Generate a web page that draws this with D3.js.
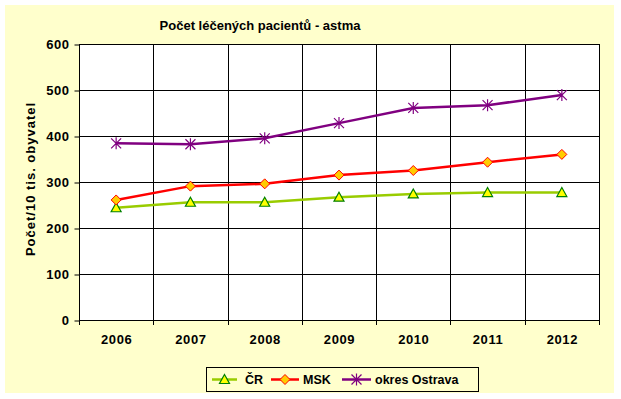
<!DOCTYPE html>
<html><head><meta charset="utf-8">
<script src="https://cdn.jsdelivr.net/npm/d3@7"></script>
<style>body{margin:0;background:#fff;}svg{display:block;}text{font-family:"Liberation Sans",Arial,sans-serif;font-weight:bold;}</style>
</head><body><svg id="c" width="621" height="399"></svg>
<script>
const years = ["2006","2007","2008","2009","2010","2011","2012"];
const cr = [244, 256, 256, 267, 274, 277, 277];
const msk = [261, 291, 296, 315, 325, 343, 360];
const ostrava = [384, 382, 395, 428, 461, 467, 489];
const yTicks = [0,100,200,300,400,500,600];
const seriesNames = ["ČR","MSK","okres Ostrava"];
const title = "Počet léčených pacientů - astma";
const yTitle = "Počet/10 tis. obyvatel";

const svg = d3.select("#c");
svg.append("rect").attr("x",5).attr("y",5).attr("width",609).attr("height",388).attr("fill","#FFFFCC");

const L=79,R=599,T=44,B=320;
const x = d3.scaleBand().domain(years).range([L,R]);
const y = d3.scaleLinear().domain([0,600]).range([B,T]);

svg.append("rect").attr("x",L).attr("y",T).attr("width",R-L).attr("height",B-T).attr("fill","#fff");

// gridlines
svg.append("g").selectAll("line").data(yTicks).join("line")
  .attr("x1",L).attr("x2",R).attr("y1",d=>Math.round(y(d))+0.5).attr("y2",d=>Math.round(y(d))+0.5)
  .attr("stroke","#000").attr("stroke-width",1);
const bounds = years.map(d=>x(d)).concat([R]);
svg.append("g").selectAll("line").data(bounds).join("line")
  .attr("x1",d=>Math.round(d)+0.5).attr("x2",d=>Math.round(d)+0.5).attr("y1",T).attr("y2",B)
  .attr("stroke","#000");

// axes
const ya = d3.axisLeft(y).tickValues(yTicks).tickSize(5).tickPadding(5).tickFormat(d3.format("d"));
const yg = svg.append("g").attr("transform",`translate(${L+0.5},0.5)`).call(ya);
yg.select(".domain").remove();
yg.selectAll("text").attr("font-size",13).attr("letter-spacing",0.5).attr("font-family","Liberation Sans, Arial").attr("font-weight","bold").attr("fill","#000");
const xa = d3.axisBottom(x).tickSize(0).tickPadding(15);
const xg = svg.append("g").attr("transform",`translate(0.5,${B})`).call(xa);
xg.select(".domain").remove();
xg.selectAll("text").attr("font-size",13).attr("letter-spacing",0.6).attr("font-family","Liberation Sans, Arial").attr("font-weight","bold").attr("fill","#000");
svg.append("g").selectAll("line").data(bounds).join("line")
  .attr("x1",d=>Math.round(d)+0.5).attr("x2",d=>Math.round(d)+0.5).attr("y1",B).attr("y2",B+5).attr("stroke","#000");

// title
svg.append("text").attr("x",260).attr("y",30).attr("text-anchor","middle").attr("font-size",13).text(title);
svg.append("text").attr("transform",`translate(35,${(T+B)/2-3}) rotate(-90)`).attr("text-anchor","middle").attr("font-size",13).attr("letter-spacing",1).text(yTitle);

const cx = d => x(d)+x.bandwidth()/2;
const line = d3.line().x((d,i)=>cx(years[i])).y(d=>y(d));

const series = [
  {name:seriesNames[0], vals:cr, color:"#99CC00", marker:"tri"},
  {name:seriesNames[1], vals:msk, color:"#FF0000", marker:"dia"},
  {name:seriesNames[2], vals:ostrava, color:"#800080", marker:"star"}
];

function drawMarker(g, type, px, py){
  if(type==="tri"){
    g.append("path").attr("d",`M${px},${py-5}L${px+5},${py+4}L${px-5},${py+4}Z`).attr("fill","#FFFF00").attr("stroke","#008000").attr("stroke-width",1.2);
  } else if(type==="dia"){
    g.append("path").attr("d",`M${px},${py-5}L${px+5},${py}L${px},${py+5}L${px-5},${py}Z`).attr("fill","#FFCC00").attr("stroke","#FF0000").attr("stroke-width",1);
  } else {
    const s=5;
    g.append("path").attr("d",`M${px-s},${py-s}L${px+s},${py+s}M${px-s},${py+s}L${px+s},${py-s}M${px},${py-s-1}L${px},${py+s+1}`).attr("stroke","#800080").attr("stroke-width",1.2).attr("fill","none");
  }
}

series.forEach(s=>{
  svg.append("path").datum(s.vals).attr("d",line).attr("fill","none").attr("stroke",s.color).attr("stroke-width",2.5);
});
series.forEach(s=>{
  const g = svg.append("g");
  s.vals.forEach((v,i)=>drawMarker(g,s.marker,cx(years[i]),y(v)));
});

// legend
svg.append("rect").attr("x",206.5).attr("y",367.5).attr("width",272).attr("height",24).attr("fill","#FFFFCC").attr("stroke","#000");
const legPos = [{x1:212,x2:237,tx:245},{x1:271,x2:299,tx:303},{x1:342,x2:371,tx:375}];
series.forEach((s,i)=>{
  const p=legPos[i], ly=379.5;
  svg.append("line").attr("x1",p.x1).attr("x2",p.x2).attr("y1",ly).attr("y2",ly).attr("stroke",s.color).attr("stroke-width",2.5);
  drawMarker(svg.append("g"), s.marker, (p.x1+p.x2)/2, ly);
  svg.append("text").attr("x",p.tx).attr("y",ly+4.5).attr("font-size",12.5).text(s.name);
});
</script></body></html>
